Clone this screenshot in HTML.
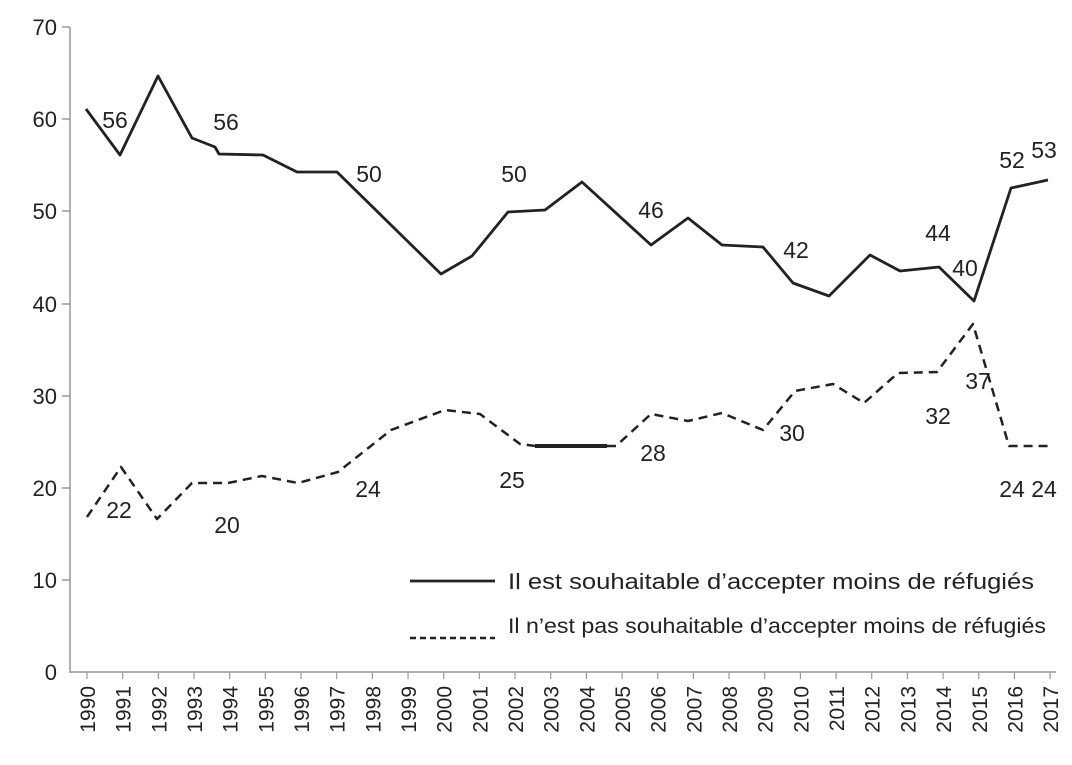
<!DOCTYPE html>
<html><head><meta charset="utf-8"><style>
body{margin:0;background:#fff}
svg{display:block}
text{font-family:"Liberation Sans",sans-serif;fill:#222}
</style></head><body>
<svg width="1072" height="765" viewBox="0 0 1072 765" xmlns="http://www.w3.org/2000/svg">
<g font-size="22" text-anchor="end">
<text x="57" y="35">70</text><text x="57" y="127">60</text><text x="57" y="219">50</text>
<text x="57" y="312">40</text><text x="57" y="404">30</text><text x="57" y="496">20</text>
<text x="57" y="588">10</text><text x="57" y="680">0</text>
</g>
<g stroke="#999" stroke-width="1.5">
<line x1="70" y1="27" x2="70" y2="673"/>
<line x1="70" y1="672" x2="1056" y2="672"/>
<line x1="62" y1="27" x2="70" y2="27"/><line x1="62" y1="119" x2="70" y2="119"/><line x1="62" y1="211" x2="70" y2="211"/><line x1="62" y1="304" x2="70" y2="304"/><line x1="62" y1="396" x2="70" y2="396"/><line x1="62" y1="488" x2="70" y2="488"/><line x1="62" y1="580" x2="70" y2="580"/>
</g>
<g id="ticks" stroke="#999" stroke-width="1.2"></g>
<g id="years" font-size="21" text-anchor="end"></g>
<polyline fill="none" stroke="#222" stroke-width="2.8" stroke-linejoin="round" points="86,109 120,155 158,76 192,138 215,147 219,154 263,155 297,172 337,172 441,274 472,256 508,212 545,210 582,182 651,245 688,218 722,245 763,247 793,283 829,296 870,255 900,271 939,267 974,301 1011,188 1048,180"/>
<polyline fill="none" stroke="#222" stroke-width="2.5" stroke-dasharray="9,6" stroke-linejoin="round" points="87,517 121,467 157,519 192,483 228,483 262,476 298,483 338,472 391,430 445,410 480,414 520,444 535,446"/>
<line x1="535" y1="446" x2="607" y2="446" stroke="#222" stroke-width="4"/>
<polyline fill="none" stroke="#222" stroke-width="2.5" stroke-dasharray="9,6" stroke-linejoin="round" points="607,446 616,446 651,414 688,421 722,413 763,430 795,391 833,384 864,403 898,373 937,372 973,324 1009,446 1048,446"/>
<g font-size="23" text-anchor="middle">
<text x="115" y="128">56</text><text x="226" y="130">56</text><text x="369" y="182">50</text>
<text x="514" y="182">50</text><text x="651" y="218">46</text><text x="796" y="258">42</text>
<text x="938" y="241">44</text><text x="965" y="276">40</text><text x="1012" y="168">52</text>
<text x="1044" y="158">53</text>
<text x="119" y="518">22</text><text x="227" y="533">20</text><text x="368" y="497">24</text>
<text x="512" y="488">25</text><text x="653" y="461">28</text><text x="792" y="441">30</text>
<text x="938" y="424">32</text><text x="978" y="389">37</text><text x="1012" y="497">24</text>
<text x="1044" y="497">24</text>
</g>
<line x1="410" y1="581" x2="495" y2="581" stroke="#222" stroke-width="2.8"/>
<text x="508" y="589" font-size="22" textLength="526" lengthAdjust="spacingAndGlyphs">Il est souhaitable d’accepter moins de réfugiés</text>
<line x1="410" y1="638" x2="495" y2="638" stroke="#222" stroke-width="2.5" stroke-dasharray="6,4"/>
<text x="508" y="633" font-size="21" textLength="538" lengthAdjust="spacingAndGlyphs">Il n’est pas souhaitable d’accepter moins de réfugiés</text>
</svg>
<script>
var t=document.getElementById('ticks'),y=document.getElementById('years'),ns='http://www.w3.org/2000/svg';
for(var i=0;i<28;i++){var x=87+i*35.67;
var l=document.createElementNS(ns,'line');l.setAttribute('x1',x);l.setAttribute('x2',x);l.setAttribute('y1',672);l.setAttribute('y2',679);t.appendChild(l);
var tx=document.createElementNS(ns,'text');tx.setAttribute('transform','translate('+(x+8)+',686) rotate(-90)');tx.textContent=1990+i;y.appendChild(tx);}
</script>
</body></html>
